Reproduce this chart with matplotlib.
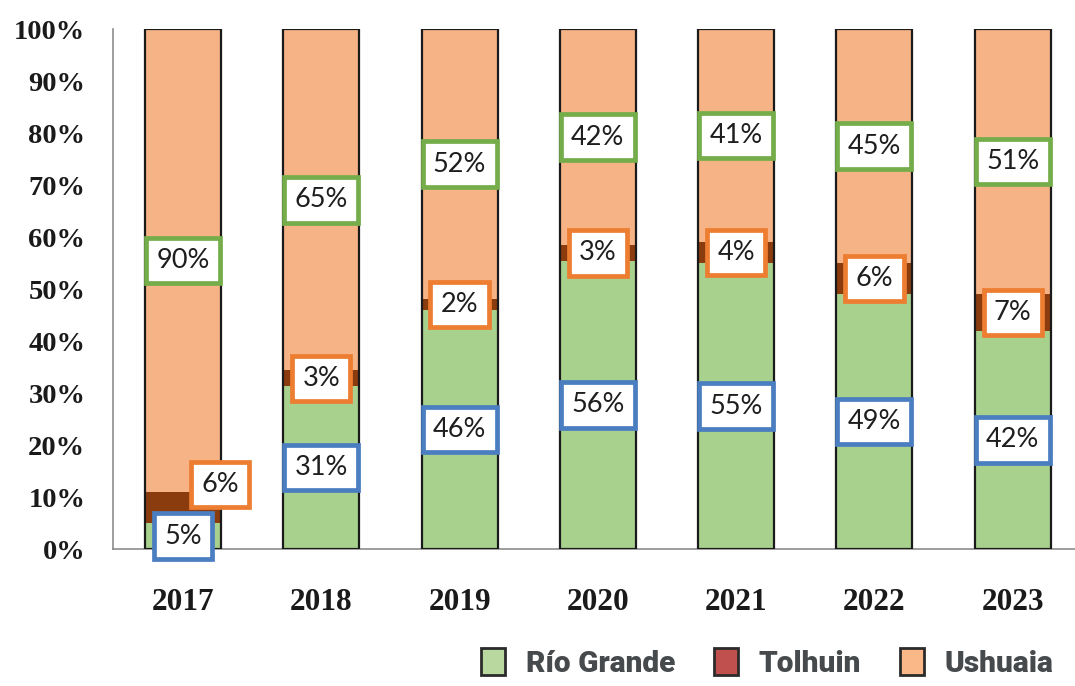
import matplotlib
matplotlib.use("Agg")
import matplotlib.pyplot as plt
import matplotlib.patches as mpatches
import numpy as np

# shares per year, in percent
years = ["2017", "2018", "2019", "2020", "2021", "2022", "2023"]
rio_grande = [5, 31, 46, 56, 55, 49, 42]
tolhuin = [6, 3, 2, 3, 4, 6, 7]
ushuaia = [90, 65, 52, 42, 41, 45, 51]
series_names = ["Río Grande", "Tolhuin", "Ushuaia"]

# bar fills and label box borders
bar_colors = ["#A9D18E", "#8A3C0E", "#F6B385"]
legend_colors = ["#B8D8A0", "#C0504D", "#FAB888"]
box_colors = ["#4A7EC0", "#ED7D31", "#74AD4A"]

fig = plt.figure(figsize=(10.75, 6.86), dpi=100)
ax = fig.add_axes([0.1051, 0.1997, 0.8949, 0.758])

x = np.arange(len(years))
width = 0.55
data = np.array([rio_grande, tolhuin, ushuaia], dtype=float)
totals = data.sum(axis=0)
shares = data / totals * 100   # 100% stacked

bottom = np.zeros(len(years))
for k in range(3):
    ax.bar(x, shares[k], width, bottom=bottom, color=bar_colors[k],
           edgecolor="none", zorder=2)
    for i in range(len(years)):
        cx = x[i]
        cy = bottom[i] + shares[k][i] / 2
        # the thin Tolhuin slice in 2017 gets its label nudged aside
        if k == 1 and i == 0:
            cx += 0.27
            cy += 4.5
        ax.text(cx, cy, "%d%%" % data[k][i], ha="center", va="center",
                fontsize=19.5, family="Lato", color="#1e1e1e", zorder=5,
                bbox=dict(boxstyle="square,pad=0.38", fc="white",
                          ec=box_colors[k], lw=3.4))
    bottom += shares[k]

# outline around each whole column
ax.bar(x, bottom, width, fill=False, edgecolor="#1a1a1a", lw=1.6, zorder=3)

ax.set_xlim(-0.506, 6.45)
ax.set_ylim(0, 100)
ax.set_yticks(np.arange(0, 101, 10))
ax.set_yticklabels(["%d%%" % v for v in range(0, 101, 10)])
ax.set_xticks(x)
ax.set_xticklabels(years)
for lab in ax.get_yticklabels():
    lab.set_fontsize(20.5)
for lab in ax.get_xticklabels():
    lab.set_fontsize(22.5)
for lab in ax.get_xticklabels() + ax.get_yticklabels():
    lab.set_fontfamily("Liberation Serif")
    lab.set_fontweight("bold")
    lab.set_color("#1a1a1a")
ax.tick_params(axis="y", length=0, pad=20)
ax.tick_params(axis="x", length=0, pad=28)

for s in ["top", "right"]:
    ax.spines[s].set_visible(False)
for s in ["left", "bottom"]:
    ax.spines[s].set_color("#8c8c8c")
    ax.spines[s].set_linewidth(1.2)

handles = [mpatches.Patch(facecolor=legend_colors[k], edgecolor="#2b2b2b",
                          lw=2, label=series_names[k]) for k in range(3)]
leg = fig.legend(handles=handles, loc="lower right", bbox_to_anchor=(0.997, -0.014),
                 ncol=3, frameon=False, handlelength=0.8, handleheight=1.05,
                 handletextpad=0.7, columnspacing=1.3, borderpad=0.1,
                 prop=dict(family="Roboto", weight="heavy", size=21.5))
for t in leg.get_texts():
    t.set_color("#474a4c")

fig.savefig("out.png", dpi=100)
